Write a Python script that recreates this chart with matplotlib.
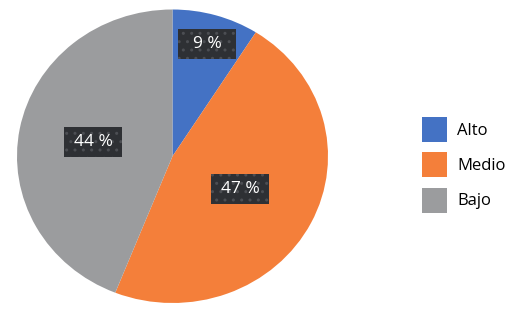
import numpy as np
import matplotlib
matplotlib.use("Agg")
import matplotlib.pyplot as plt
from matplotlib.patches import Rectangle, Patch

plt.rcParams['font.family'] = ['Open Sans', 'DejaVu Sans']
plt.rcParams['hatch.color'] = '#4c4e53'
plt.rcParams['hatch.linewidth'] = 1.0

# datos
categorias = ["Alto", "Medio", "Bajo"]
valores = [9, 47, 44]
etiquetas = ["9 %", "47 %", "44 %"]
colores = ["#4472C4", "#F47F3A", "#9B9C9E"]

W, H = 529, 319
fig = plt.figure(figsize=(W / 100, H / 100), dpi=100)

# ejes del pastel (en pixeles: x 17..328, y 9.5..303)
x0, x1, y0, y1 = 17, 328, 9.5, 303
ax = fig.add_axes([x0 / W, (H - y1) / H, (x1 - x0) / W, (y1 - y0) / H])

wedges, _ = ax.pie(valores, colors=colores, startangle=90, counterclock=False,
                   wedgeprops=dict(linewidth=0))
ax.set_aspect('auto')
ax.set_xlim(-1, 1)
ax.set_ylim(-1, 1)
ax.axis('off')

# etiquetas en cajas oscuras de tamaño fijo
radios = [0.80, 0.49, 0.52]
px_x = (x1 - x0) / 2.0
px_y = (y1 - y0) / 2.0
bw, bh = 58 / px_x, 30 / px_y
for w, txt, r in zip(wedges, etiquetas, radios):
    ang = np.deg2rad((w.theta1 + w.theta2) / 2.0)
    cx, cy = r * np.cos(ang), r * np.sin(ang)
    ax.add_patch(Rectangle((cx - bw / 2, cy - bh / 2), bw, bh,
                           facecolor='#2e3034', edgecolor=None, hatch='..',
                           linewidth=0, zorder=3))
    ax.text(cx, cy, txt, ha='center', va='center', color='white',
            fontsize=12.5, zorder=4)

handles = [Patch(facecolor=c, edgecolor='none') for c in colores]
fig.legend(handles, categorias, loc='upper left',
           bbox_to_anchor=(422 / W, 1 - 117 / H), bbox_transform=fig.transFigure,
           frameon=False, fontsize=12, handlelength=1.5, handleheight=1.93,
           handletextpad=0.6, labelspacing=0.62, borderpad=0, borderaxespad=0)

fig.savefig("out.png", dpi=100, facecolor='white')
